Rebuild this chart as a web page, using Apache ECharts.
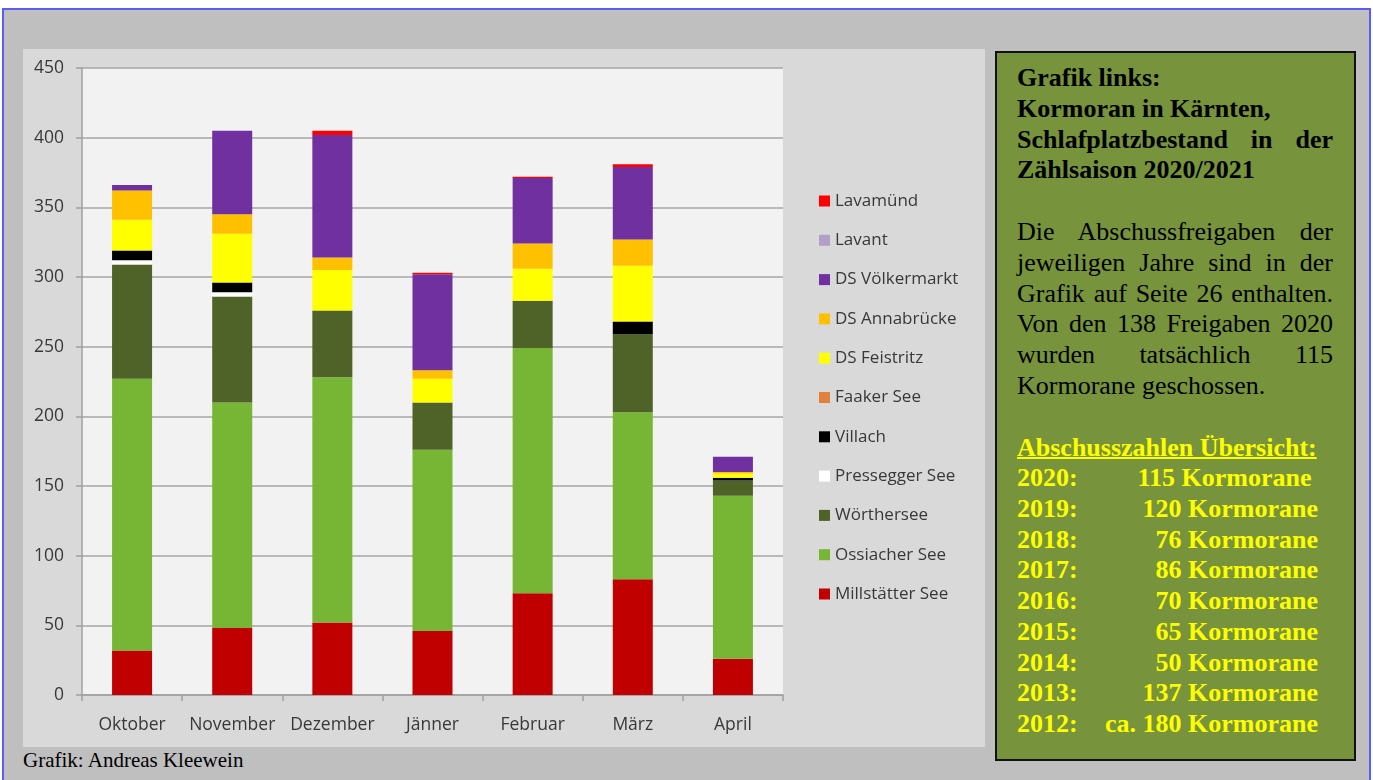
<!DOCTYPE html>
<html>
<head>
<meta charset="utf-8">
<script src="https://cdn.jsdelivr.net/npm/echarts@6/dist/echarts.min.js"></script>
<style>
  html, body { margin: 0; padding: 0; background: #fff; width: 1373px; height: 780px; overflow: hidden; }
  #frame { position: absolute; left: 2px; top: 8px; width: 1365px; height: 800px; background: #bfbfbf;
           border-left: 2px solid #5b5bf5; border-top: 2px solid #5b5bf5; border-right: 2px solid #5b5bf5; }
  #chart { position: absolute; left: 23px; top: 49px; width: 962px; height: 698px; background: #d9d9d9; }
  #credit { position: absolute; left: 23px; top: 747px; font: 21px "Liberation Serif", serif; color: #000; line-height: 26px; }
  #side { position: absolute; left: 995px; top: 51px; width: 361px; height: 710px; background: #77933c;
          border: 2px solid #111; font-family: "Liberation Serif", serif; font-size: 26px; line-height: 30.8px;
          padding: 10px 21px 0 20px; box-sizing: border-box; }
  #side div { white-space: nowrap; }
  #side .j { text-align: justify; text-align-last: justify; }
  #side .b { font-weight: bold; }
  #side .y { color: #ffff00; font-weight: bold; }
  #side .row { display: flex; justify-content: space-between; width: 301px; line-height: 30.7px; }
  #side .gap { height: 30.8px; }
</style>
</head>
<body>
<div id="frame"></div>
<div id="chart"></div>
<div id="credit">Grafik: Andreas Kleewein</div>
<div id="side">
  <div class="b">Grafik links:</div>
  <div class="b">Kormoran in Kärnten,</div>
  <div class="b j">Schlafplatzbestand in der</div>
  <div class="b">Zählsaison 2020/2021</div>
  <div class="gap"></div>
  <div class="j">Die Abschussfreigaben der</div>
  <div class="j">jeweiligen Jahre sind in der</div>
  <div class="j">Grafik auf Seite 26 enthalten.</div>
  <div class="j">Von den 138 Freigaben 2020</div>
  <div class="j">wurden tatsächlich 115</div>
  <div>Kormorane geschossen.</div>
  <div class="gap"></div>
  <div class="y" style="text-decoration: underline; text-decoration-thickness: 2px;">Abschusszahlen Übersicht:</div>
  <div id="quota"></div>
</div>
<script>
  // Monate der Zählsaison
  const months = ['Oktober', 'November', 'Dezember', 'Jänner', 'Februar', 'März', 'April'];

  // Schlafplatzbestand je Gewässer (von unten nach oben gestapelt)
  const millstaetterSee = [32, 48, 52, 46, 73, 83, 26];
  const ossiacherSee    = [195, 162, 176, 130, 176, 120, 117];
  const woerthersee     = [82, 76, 48, 34, 34, 56, 11];
  const presseggerSee   = [3, 3, 0, 0, 0, 0, 0];
  const villach         = [7, 7, 0, 0, 0, 9, 2];
  const faakerSee       = [0, 0, 0, 0, 0, 0, 0];
  const dsFeistritz     = [22, 35, 29, 17, 23, 40, 3];
  const dsAnnabruecke   = [21, 14, 9, 6, 18, 19, 1];
  const dsVoelkermarkt  = [4, 60, 88, 69, 47, 52, 11];
  const lavant          = [0, 0, 0, 0, 0, 0, 0];
  const lavamuend       = [0, 0, 3, 1, 1, 2, 0];

  // Abschusszahlen rechts
  const quotaYears = ['2020:', '2019:', '2018:', '2017:', '2016:', '2015:', '2014:', '2013:', '2012:'];
  const quotaText  = ['115 Kormorane ', '120 Kormorane', '76 Kormorane', '86 Kormorane', '70 Kormorane',
                      '65 Kormorane', '50 Kormorane', '137 Kormorane', 'ca. 180 Kormorane'];

  let quota = document.getElementById('quota');
  for (let i = 0; i < quotaYears.length; i++) {
      let row = document.createElement('div');
      row.className = 'y row';
      row.innerHTML = '<span>' + quotaYears[i] + '</span><span style="white-space:pre">' + quotaText[i] + '</span>';
      quota.appendChild(row);
  }

  const seriesDefs = [
      ['Millstätter See', millstaetterSee, '#c00000'],
      ['Ossiacher See', ossiacherSee, '#77b534'],
      ['Wörthersee', woerthersee, '#4f6228'],
      ['Pressegger See', presseggerSee, '#ffffff'],
      ['Villach', villach, '#000000'],
      ['Faaker See', faakerSee, '#e0823d'],
      ['DS Feistritz', dsFeistritz, '#ffff00'],
      ['DS Annabrücke', dsAnnabruecke, '#ffc000'],
      ['DS Völkermarkt', dsVoelkermarkt, '#7030a0'],
      ['Lavant', lavant, '#b1a0c7'],
      ['Lavamünd', lavamuend, '#ff0000']
  ];

  let series = seriesDefs.map(function (d) {
      return {
          name: d[0],
          type: 'bar',
          stack: 'total',
          barWidth: 40,
          data: d[1],
          itemStyle: { color: d[2] },
          emphasis: { disabled: true }
      };
  });

  var myChart = echarts.init(document.getElementById('chart'));
  var option = {
      animation: false,
      backgroundColor: 'transparent',
      textStyle: { fontFamily: '"Open Sans", sans-serif' },
      grid: {
          left: 59, top: 19, width: 701, height: 627,
          show: true, backgroundColor: '#f2f2f2', borderWidth: 0
      },
      legend: {
          orient: 'vertical',
          left: 791,
          top: 137,
          icon: 'rect',
          itemWidth: 11,
          itemHeight: 11,
          itemGap: 19.3,
          data: seriesDefs.map(d => d[0]).reverse(),
          textStyle: { fontSize: 17, color: '#383838', lineHeight: 20, fontFamily: '"Open Sans", sans-serif' }
      },
      xAxis: {
          type: 'category',
          data: months,
          axisLine: { lineStyle: { color: '#a0a0a0', width: 1.5 } },
          axisTick: { show: true, length: 6, lineStyle: { color: '#a0a0a0', width: 1.5 } },
          axisLabel: { interval: 0, fontSize: 17.5, color: '#383838', margin: 21 }
      },
      yAxis: {
          type: 'value',
          min: 0,
          max: 450,
          interval: 50,
          axisLine: { show: true, lineStyle: { color: '#a0a0a0', width: 1.5 } },
          axisTick: { show: true, length: 6, lineStyle: { color: '#a0a0a0', width: 1.5 } },
          axisLabel: { fontSize: 17.5, color: '#383838', margin: 18 },
          splitLine: { lineStyle: { color: '#a6a6a6', width: 1.5 } }
      },
      series: series
  };
  myChart.setOption(option);
</script>
</body>
</html>
